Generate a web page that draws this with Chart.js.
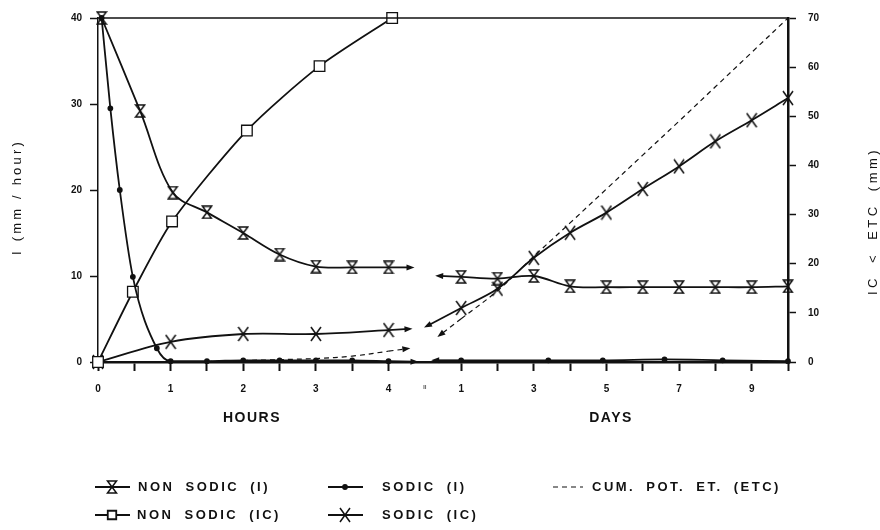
<!DOCTYPE html>
<html>
<head>
<meta charset="utf-8">
<script src="https://cdn.jsdelivr.net/npm/chart.js@4.4.0/dist/chart.umd.min.js"></script>
<style>
html, body { margin: 0; padding: 0; background: #fff; }
#wrap { width: 880px; height: 530px; }
</style>
</head>
<body>
<div id="wrap"><canvas id="infilChart" width="880" height="530"></canvas></div>
<script>
// Grafik infiltrasi: jam 0-4 lalu (patahan) hari 1-10
// posisi x: 1 jam = 2 unit, hari mulai setelah patahan di unit 9
const BREAK_AT = 9;

const hourTicks = [0, 1, 2, 3, 4];
const dayTicks = [1, 3, 5, 7, 9];
const leftTicks = [0, 10, 20, 30, 40];
const rightTicks = [0, 10, 20, 30, 40, 50, 60, 70];

// NON SODIC (I)  mm/hour
const nonSodicIHours = [0.05, 0.58, 1.03, 1.5, 2, 2.5, 3, 3.5, 4];
const nonSodicIHourVals = [40, 29.2, 19.7, 17.4, 15, 12.5, 11.1, 11, 11];
const nonSodicIDays = [1, 2, 3, 4, 5, 6, 7, 8, 9, 10];
const nonSodicIDayVals = [9.9, 9.7, 10, 8.8, 8.7, 8.7, 8.7, 8.7, 8.7, 8.8];

// SODIC (I)  mm/hour
const sodicIHours = [0.05, 0.17, 0.3, 0.48, 0.81, 1, 1.5, 2, 2.5, 3, 3.5, 4];
const sodicIHourVals = [40, 29.5, 20, 9.9, 1.6, 0.1, 0.1, 0.2, 0.2, 0.2, 0.2, 0.1];
const sodicIDays = [1, 3.4, 4.9, 6.6, 8.2, 10];
const sodicIDayVals = [0.2, 0.2, 0.2, 0.3, 0.2, 0.1];

// NON SODIC (IC)  mm
const nonSodicICHours = [0, 0.48, 1.02, 2.05, 3.05, 4.05];
const nonSodicICHourVals = [0, 14.3, 28.6, 47.1, 60.2, 70];

// SODIC (IC)  mm
const sodicICHours = [0, 1, 2, 3, 4];
const sodicICHourVals = [0, 4.1, 5.7, 5.7, 6.5];
const sodicICDays = [1, 2, 3, 4, 5, 6, 7, 8, 9, 10];
const sodicICDayVals = [11, 14.9, 21.2, 26.3, 30.4, 35.2, 39.8, 44.9, 49.2, 53.7];

// CUM. POT. ET. (ETC)  mm
const etcHours = [1.5, 2, 3, 3.5, 4];
const etcHourVals = [0.1, 0.3, 0.7, 1.2, 2.2];
const etcDays = [1, 2, 3, 4, 5, 6, 7, 8, 9, 10];
const etcDayVals = [8.8, 14.5, 21.5, 28.3, 35.2, 42.1, 49, 56, 63, 70];

const hourPos = h => h * 2;
const dayPos = d => BREAK_AT + d;

function buildSeries(hours, hourVals, days, dayVals) {
    const pts = hours.map((h, i) => ({ x: hourPos(h), y: hourVals[i] }));
    if (days) {
        pts.push({ x: BREAK_AT, y: null });
        days.forEach((d, i) => pts.push({ x: dayPos(d), y: dayVals[i] }));
    }
    return pts;
}

// marker jam pasir untuk NON SODIC (I)
function hourglassMarker() {
    const c = document.createElement('canvas');
    c.width = 12; c.height = 14;
    const g = c.getContext('2d');
    g.strokeStyle = '#111';
    g.lineWidth = 1.5;
    g.beginPath();
    g.moveTo(1.5, 1); g.lineTo(10.5, 1); g.lineTo(1.5, 13); g.lineTo(10.5, 13); g.closePath();
    g.stroke();
    return c;
}

// marker silang tinggi untuk SODIC (IC)
function tallCrossMarker() {
    const c = document.createElement('canvas');
    c.width = 12; c.height = 16;
    const g = c.getContext('2d');
    g.strokeStyle = '#111';
    g.lineWidth = 1.5;
    g.beginPath();
    g.moveTo(1, 1); g.lineTo(11, 15);
    g.moveTo(11, 1); g.lineTo(1, 15);
    g.stroke();
    return c;
}

const INK = '#111';
const FONT = '"Liberation Sans", Arial, sans-serif';

const base = {
    borderColor: INK,
    borderWidth: 1.8,
    pointBorderColor: INK,
    pointBackgroundColor: '#fff',
    tension: 0.35,
    spanGaps: false,
    clip: false
};

const datasets = [
    Object.assign({}, base, {
        label: 'NON SODIC (I)',
        data: buildSeries(nonSodicIHours, nonSodicIHourVals, nonSodicIDays, nonSodicIDayVals),
        yAxisID: 'yI',
        pointStyle: hourglassMarker(),
        arrows: { out: 26, in: 26 }
    }),
    Object.assign({}, base, {
        label: 'SODIC (I)',
        data: buildSeries(sodicIHours, sodicIHourVals, sodicIDays, sodicIDayVals),
        yAxisID: 'yI',
        cubicInterpolationMode: 'monotone',
        pointStyle: 'circle',
        pointRadius: 2,
        pointBackgroundColor: INK,
        arrows: { out: 30, in: 30 }
    }),
    Object.assign({}, base, {
        label: 'NON SODIC (IC)',
        data: buildSeries(nonSodicICHours, nonSodicICHourVals),
        yAxisID: 'yIC',
        tension: 0.25,
        pointStyle: 'rect',
        pointRadius: 7.5,
        pointBorderWidth: 1.3
    }),
    Object.assign({}, base, {
        label: 'SODIC (IC)',
        data: buildSeries(sodicICHours, sodicICHourVals, sodicICDays, sodicICDayVals),
        yAxisID: 'yIC',
        pointStyle: tallCrossMarker(),
        arrows: { out: 24, in: 42 }
    }),
    Object.assign({}, base, {
        label: 'CUM. POT. ET. (ETC)',
        data: buildSeries(etcHours, etcHourVals, etcDays, etcDayVals),
        yAxisID: 'yIC',
        borderWidth: 1.2,
        borderDash: [5, 4],
        pointRadius: 0,
        arrows: { out: 22, in: 30 }
    })
];

// panah di ujung garis dekat patahan sumbu
const breakArrows = {
    id: 'breakArrows',
    afterDatasetsDraw(chart) {
        const ctx = chart.ctx;
        chart.data.datasets.forEach((ds, i) => {
            if (!ds.arrows) return;
            const pts = chart.getDatasetMeta(i).data;
            const gap = ds.data.findIndex(p => p.y === null);
            if (gap < 2) return;
            drawArrow(ctx, ds, pts[gap - 2], pts[gap - 1], ds.arrows.out);
            drawArrow(ctx, ds, pts[gap + 2], pts[gap + 1], ds.arrows.in);
        });
    }
};

function drawArrow(ctx, ds, from, to, len) {
    let dx = to.x - from.x, dy = to.y - from.y;
    const d = Math.hypot(dx, dy) || 1;
    dx /= d; dy /= d;
    const tx = to.x + dx * len, ty = to.y + dy * len;
    ctx.save();
    ctx.strokeStyle = INK;
    ctx.fillStyle = INK;
    ctx.lineWidth = ds.borderWidth;
    ctx.setLineDash(ds.borderDash || []);
    ctx.beginPath();
    ctx.moveTo(to.x, to.y);
    ctx.lineTo(tx - dx * 4, ty - dy * 4);
    ctx.stroke();
    ctx.setLineDash([]);
    ctx.beginPath();
    ctx.moveTo(tx, ty);
    ctx.lineTo(tx - dx * 8 - dy * 3, ty - dy * 8 + dx * 3);
    ctx.lineTo(tx - dx * 8 + dy * 3, ty - dy * 8 - dx * 3);
    ctx.closePath();
    ctx.fill();
    ctx.restore();
}

// garis atas, judul sumbu, label HOURS/DAYS dan legenda
const decorations = {
    id: 'decorations',
    afterDraw(chart) {
        const ctx = chart.ctx;
        const a = chart.chartArea;
        ctx.save();
        ctx.strokeStyle = INK;
        ctx.lineWidth = 1.5;
        ctx.beginPath();
        ctx.moveTo(a.left, a.top);
        ctx.lineTo(a.right, a.top);
        ctx.stroke();

        ctx.fillStyle = INK;
        ctx.textAlign = 'center';
        ctx.textBaseline = 'middle';
        ctx.letterSpacing = '1.5px';
        ctx.font = 'bold 14px ' + FONT;
        ctx.fillText('HOURS', 252, 418);
        ctx.fillText('DAYS', 611, 418);

        ctx.font = '13px ' + FONT;
        ctx.save();
        ctx.translate(17, 197);
        ctx.rotate(-Math.PI / 2);
        ctx.letterSpacing = '3.2px';
        ctx.fillText('I (mm / hour)', 0, 0);
        ctx.restore();
        ctx.save();
        ctx.translate(873, 221);
        ctx.rotate(-Math.PI / 2);
        ctx.letterSpacing = '3.5px';
        ctx.wordSpacing = '5px';
        ctx.fillText('IC < ETC (mm)', 0, 0);
        ctx.restore();

        const legend = [
            { i: 0, x: 95, y: 487, tx: 138 },
            { i: 1, x: 328, y: 487, tx: 382 },
            { i: 4, x: 553, y: 487, tx: 592 },
            { i: 2, x: 95, y: 515, tx: 137 },
            { i: 3, x: 328, y: 515, tx: 382 }
        ];
        legend.forEach(e => {
            const ds = chart.data.datasets[e.i];
            ctx.save();
            ctx.strokeStyle = INK;
            ctx.lineWidth = ds.borderWidth;
            ctx.setLineDash(ds.borderDash || []);
            ctx.beginPath();
            ctx.moveTo(e.x, e.y);
            ctx.lineTo(e.x + (ds.borderDash ? 30 : 35), e.y);
            ctx.stroke();
            ctx.setLineDash([]);
            if (ds.pointRadius !== 0) {
                ctx.fillStyle = ds.pointBackgroundColor;
                Chart.helpers.drawPoint(ctx, {
                    pointStyle: ds.pointStyle,
                    radius: ds.pointStyle === 'rect' ? 6 : (ds.pointRadius || 3),
                    borderWidth: 1.3,
                    rotation: 0
                }, e.x + 17, e.y);
            }
            ctx.restore();
            ctx.textAlign = 'left';
            ctx.font = 'bold 13px ' + FONT;
            ctx.letterSpacing = '2.5px';
            ctx.wordSpacing = '5px';
            ctx.fillText(ds.label, e.tx, e.y);
        });
        ctx.restore();
    }
};

function xLabel(v) {
    if (v <= 8 && v % 2 === 0 && hourTicks.includes(v / 2)) return String(v / 2);
    if (v === BREAK_AT) return 'ıı';
    if (v > BREAK_AT && dayTicks.includes(v - BREAK_AT)) return String(v - BREAK_AT);
    return '';
}

const tickFont = { family: FONT, size: 10, weight: 'bold' };

new Chart(document.getElementById('infilChart'), {
    type: 'line',
    data: { datasets: datasets },
    plugins: [breakArrows, decorations],
    options: {
        responsive: false,
        animation: false,
        devicePixelRatio: 1,
        layout: { padding: { left: 58, right: 52, top: 17, bottom: 128 } },
        plugins: { legend: { display: false }, tooltip: { enabled: false } },
        scales: {
            x: {
                type: 'linear',
                min: 0,
                max: dayPos(10),
                afterBuildTicks(scale) {
                    const t = [];
                    for (let v = 0; v <= dayPos(10); v++) t.push({ value: v });
                    scale.ticks = t;
                },
                afterFit(scale) { scale.height = 40; },
                ticks: {
                    autoSkip: false,
                    maxRotation: 0,
                    padding: 12,
                    color: INK,
                    font: c => (c.tick && c.tick.value === BREAK_AT) ? { family: FONT, size: 7 } : tickFont,
                    callback: xLabel
                },
                grid: {
                    drawOnChartArea: false,
                    drawTicks: true,
                    tickLength: 9,
                    tickWidth: 2,
                    tickColor: c => (c.tick && c.tick.value === BREAK_AT) ? 'rgba(0,0,0,0)' : INK
                },
                border: { display: true, color: INK, width: 2.5 }
            },
            yI: {
                position: 'left',
                min: 0,
                max: 40,
                afterBuildTicks(scale) { scale.ticks = leftTicks.map(v => ({ value: v })); },
                afterFit(scale) { scale.width = 40; },
                ticks: { padding: 8, color: INK, font: tickFont },
                grid: { drawOnChartArea: false, tickLength: 8, tickWidth: 1.5, tickColor: INK },
                border: { display: true, color: INK, width: 1.5 }
            },
            yIC: {
                position: 'right',
                min: 0,
                max: 70,
                afterBuildTicks(scale) { scale.ticks = rightTicks.map(v => ({ value: v })); },
                afterFit(scale) { scale.width = 40; },
                ticks: { padding: 12, color: INK, font: tickFont },
                grid: { drawOnChartArea: false, tickLength: 8, tickWidth: 1.5, tickColor: INK },
                border: { display: true, color: INK, width: 2.5 }
            }
        }
    }
});
</script>
</body>
</html>
